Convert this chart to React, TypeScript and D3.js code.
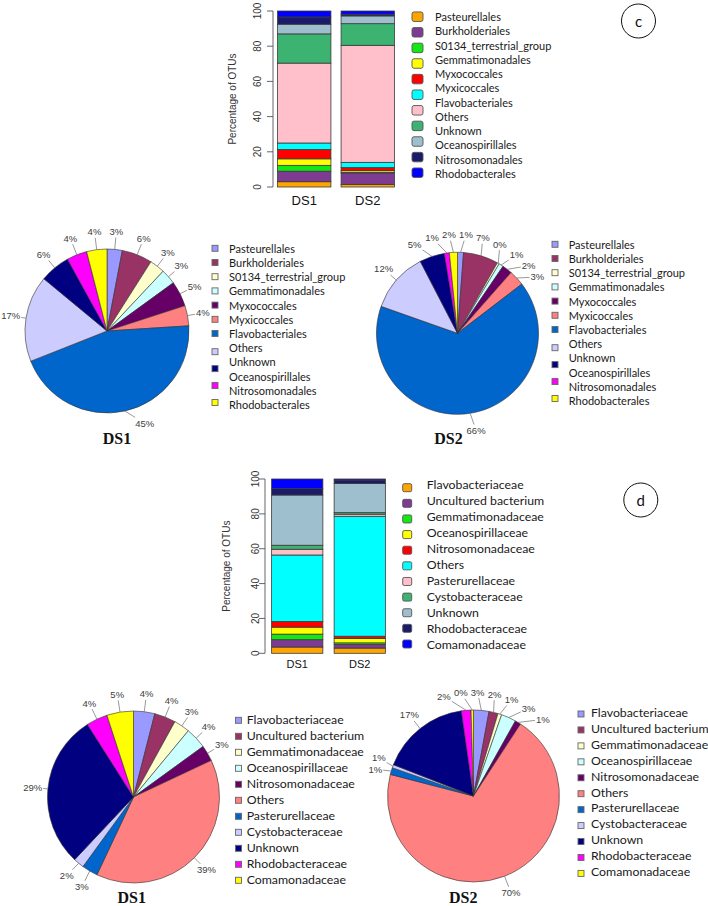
import React from 'react';
import * as d3 from 'd3';

// ---------------- data ----------------
const samples = ['DS1', 'DS2'];
const yTicks = [0, 20, 40, 60, 80, 100];

const barColors = ['#FFA500', '#7E3B92', '#14E814', '#FFFF00', '#FF0000', '#00FFFF', '#FFC0CB', '#3CB371', '#9EBFCD', '#1B1B6B', '#0000FF'];

// panel c (orders)
const orderLabels = ['Pasteurellales', 'Burkholderiales', 'S0134_terrestrial_group', 'Gemmatimonadales', 'Myxococcales', 'Myxicoccales', 'Flavobacteriales', 'Others', 'Unknown', 'Oceanospirillales', 'Nitrosomonadales', 'Rhodobacterales'];
const orderBarDS1 = [3, 6, 3.3, 3.7, 5.3, 3.7, 45.4, 16.6, 5.5, 4.1, 3.4];
const orderBarDS2 = [1.5, 6.5, 0.4, 0.9, 1.7, 3, 66.5, 12.3, 4.4, 1, 1.8];
const orderPieDS1 = [3, 6, 3, 3, 5, 4, 45, 17, 6, 4, 4];
const orderPieDS2 = [1.2, 7.0, 0.4, 0.9, 2.0, 3.1, 65.8, 12.0, 5.0, 1.0, 1.6];

// panel d (families)
const familyLabels = ['Flavobacteriaceae', 'Uncultured bacterium', 'Gemmatimonadaceae', 'Oceanospirillaceae', 'Nitrosomonadaceae', 'Others', 'Pasterurellaceae', 'Cystobacteraceae', 'Unknown', 'Rhodobacteraceae', 'Comamonadaceae'];
const familyBarDS1 = [3.6, 4.2, 3.2, 4, 3.2, 38.2, 3.3, 2.3, 28.8, 3.8, 5.4];
const familyBarDS2 = [3, 2, 1, 2.5, 1.3, 68.8, 1.2, 0.9, 16.8, 1.9, 0.6];
const familyPieDS1 = [4, 4, 3, 4, 3, 39, 3, 2, 29, 4, 5];
const familyPieDS2 = [2.9, 1.7, 0.7, 2.8, 1.1, 69.8, 1.3, 0.6, 16.8, 1.8, 0.45];

const pieColors = ['#9999FF', '#993366', '#FFFFCC', '#CCFFFF', '#660066', '#FF8080', '#0066CC', '#CCCCFF', '#000080', '#FF00FF', '#FFFF00'];

// ---------------- styles ----------------
const ARIAL = '"Liberation Sans", Arial, sans-serif';
const CALIBRI = 'Lato, "Open Sans", sans-serif';
const SERIF = '"Liberation Serif", "Times New Roman", serif';

// ---------------- components ----------------
type BarProps = {
  values: number[][];
  band: [number, number];
  pi: number;
  po: number;
  yRange: [number, number];
  axisX: number;
  tickLabelX: number;
  yLabelX: number;
  sampleY: number;
  sampleFont: number;
};

function BarPanel(p: BarProps) {
  const x = d3.scaleBand<string>().domain(samples).range(p.band).paddingInner(p.pi).paddingOuter(p.po);
  const y = d3.scaleLinear().domain([0, 100]).range(p.yRange);
  const keys = barColors.map((_, i) => 'k' + i);
  const rows = samples.map((s, si) => {
    const o: any = { sample: s };
    keys.forEach((k, i) => (o[k] = p.values[si][i]));
    return o;
  });
  const stacked = d3.stack<any>().keys(keys)(rows);
  const bw = x.bandwidth();
  return (
    <g>
      {stacked.map((layer, li) =>
        layer.map((d, si) => (
          <rect
            key={li + '-' + si}
            x={x(samples[si])}
            y={y(d[1])}
            width={bw}
            height={Math.max(0, y(d[0]) - y(d[1]))}
            fill={barColors[li]}
            stroke="#3a3a3a"
            strokeWidth={0.8}
          />
        ))
      )}
      <line x1={p.axisX} x2={p.axisX} y1={y(0)} y2={y(100)} stroke="#555" strokeWidth={0.9} />
      {yTicks.map((t) => (
        <g key={t}>
          <line x1={p.axisX - 6} x2={p.axisX} y1={y(t)} y2={y(t)} stroke="#555" strokeWidth={0.9} />
          <text
            transform={`translate(${p.tickLabelX},${y(t)}) rotate(-90)`}
            textAnchor="middle"
            dominantBaseline="central"
            fontSize={10}
            fontFamily={ARIAL}
            fill="#333"
          >
            {t}
          </text>
        </g>
      ))}
      <text
        transform={`translate(${p.yLabelX},${(y(0) + y(100)) / 2}) rotate(-90)`}
        textAnchor="middle"
        dominantBaseline="central"
        fontSize={10}
        fontFamily={ARIAL}
        fill="#333"
      >
        Percentage of OTUs
      </text>
      {samples.map((s) => (
        <text key={s} x={(x(s) as number) + bw / 2} y={p.sampleY} textAnchor="middle" fontSize={p.sampleFont} fontFamily={ARIAL} fill="#111">
          {s}
        </text>
      ))}
    </g>
  );
}

type LegendProps = {
  labels: string[];
  colors: string[];
  swX: number;
  swW: number;
  swH: number;
  labelX: number;
  y0: number;
  labelStep: number;
  swatchY: (i: number) => number;
  fontSize: number;
  rx: number;
  swStroke: string;
};

function Legend(p: LegendProps) {
  return (
    <g>
      {p.colors.map((c, i) => (
        <rect
          key={'s' + i}
          x={p.swX}
          y={p.swatchY(i) - p.swH / 2}
          width={p.swW}
          height={p.swH}
          rx={p.rx}
          fill={c}
          stroke={p.swStroke}
          strokeWidth={0.9}
        />
      ))}
      {p.labels.map((l, i) => (
        <text key={'t' + i} x={p.labelX} y={p.y0 + i * p.labelStep} dominantBaseline="central" fontSize={p.fontSize} fontFamily={CALIBRI} fill="#1a1a1a">
          {l}
        </text>
      ))}
    </g>
  );
}

type PieProps = {
  cx: number;
  cy: number;
  r: number;
  values: number[];
  title: string;
  titleX: number;
  titleY: number;
};

function PiePanel(p: PieProps) {
  const pie = d3.pie<number>().sort(null).value((d) => d);
  const arcs = pie(p.values);
  const arcGen = d3.arc<d3.PieArcDatum<number>>().innerRadius(0).outerRadius(p.r);
  const total = d3.sum(p.values);
  const fs = 9.5;
  const items = arcs.map((a, i) => {
    const mid = (a.startAngle + a.endAngle) / 2;
    const txt = Math.round((p.values[i] / total) * 100) + '%';
    const w = ((txt.length - 1) * 0.556 + 0.889) * fs;
    return { i, mid, t: mid > Math.PI ? mid - 2 * Math.PI : mid, txt, w };
  });
  const rad = (t: number) => p.r + 15 + 3 * Math.abs(Math.cos(t));
  const pos = (t: number) => ({ x: p.cx + rad(t) * Math.sin(t), y: p.cy - rad(t) * Math.cos(t) });
  // title box acts as an obstacle for the labels
  const tb = { x0: p.titleX - 18, x1: p.titleX + 18, y0: p.titleY - 15, y1: p.titleY + 2 };
  const sorted = [...items].sort((a, b) => a.t - b.t);
  for (let iter = 0; iter < 600; iter++) {
    let moved = false;
    for (let k = 0; k < sorted.length - 1; k++) {
      const a = sorted[k];
      const b = sorted[k + 1];
      const pa = pos(a.t);
      const pb = pos(b.t);
      const ox = (a.w + b.w) / 2 + 3 - Math.abs(pa.x - pb.x);
      const oy = 11 - Math.abs(pa.y - pb.y);
      if (ox > 0 && oy > 0) {
        a.t -= 0.004;
        b.t += 0.004;
        moved = true;
      }
    }
    for (const it of sorted) {
      const c = pos(it.t);
      const hit = c.x + it.w / 2 > tb.x0 && c.x - it.w / 2 < tb.x1 && c.y + 5.5 > tb.y0 && c.y - 5.5 < tb.y1;
      if (hit) {
        it.t += c.x >= p.titleX ? -0.004 : 0.004;
        moved = true;
      }
    }
    if (!moved) break;
  }
  return (
    <g>
      {arcs.map((a, i) => (
        <path key={i} d={arcGen(a) as string} transform={`translate(${p.cx},${p.cy})`} fill={pieColors[i]} stroke="#333" strokeWidth={0.6} />
      ))}
      {items.map((it) => {
        const c = pos(it.t);
        const ex = p.cx + p.r * Math.sin(it.mid);
        const ey = p.cy - p.r * Math.cos(it.mid);
        const dx = ex - c.x;
        const dy = ey - c.y;
        const len = Math.hypot(dx, dy) || 1;
        const ux = dx / len;
        const uy = dy / len;
        const tt = Math.min((it.w / 2 + 1) / Math.max(Math.abs(ux), 1e-6), 6 / Math.max(Math.abs(uy), 1e-6));
        const lx = c.x + ux * tt;
        const ly = c.y + uy * tt;
        const showLine = Math.hypot(ex - lx, ey - ly) > 2;
        return (
          <g key={'l' + it.i}>
            {showLine && <line x1={ex} y1={ey} x2={lx} y2={ly} stroke="#777" strokeWidth={0.75} />}
            <text x={c.x} y={c.y} textAnchor="middle" dominantBaseline="central" fontSize={fs} fontFamily={ARIAL} fill="#404040">
              {it.txt}
            </text>
          </g>
        );
      })}
      <text x={p.titleX} y={p.titleY} textAnchor="middle" fontSize={16} fontWeight="bold" fontFamily={SERIF} fill="#111">
        {p.title}
      </text>
    </g>
  );
}

function CircleTag({ cx, cy, label }: { cx: number; cy: number; label: string }) {
  return (
    <g>
      <circle cx={cx} cy={cy} r={17} fill="none" stroke="#111" strokeWidth={1} />
      <text x={cx} y={cy} textAnchor="middle" dominantBaseline="central" fontSize={15} fontFamily={CALIBRI} fill="#111">
        {label}
      </text>
    </g>
  );
}

// pie legend swatch positions for panel c (11 swatches against 12 labels)
const pieCSwatch = (y0: number, step: number) => (i: number) => {
  if (i < 7) return y0 + i * step;
  const a = y0 + 7 * step + 4;
  const b = y0 + 11 * step - 2;
  return a + ((i - 7) * (b - a)) / 3;
};

export default function App() {
  return (
    <svg width={708} height={906} style={{ position: 'absolute', left: 0, top: 0, background: '#fff' }}>
      <rect x={0} y={0} width={708} height={906} fill="#fff" />
      {/* ---------- panel c ---------- */}
      <BarPanel
        values={[orderBarDS1, orderBarDS2]}
        band={[272.5, 399.5]}
        pi={0.16}
        po={0.08}
        yRange={[187, 11]}
        axisX={273}
        tickLabelX={257}
        yLabelX={232}
        sampleY={205}
        sampleFont={13}
      />
      <Legend
        labels={orderLabels}
        colors={barColors}
        swX={412}
        swW={11}
        swH={9.5}
        rx={2}
        swStroke="#555"
        labelX={435}
        y0={16.7}
        labelStep={14.24}
        swatchY={(i) => 16.7 + i * 15.6}
        fontSize={11}
      />
      <CircleTag cx={638.5} cy={21} label="c" />

      <PiePanel cx={107} cy={331} r={82} values={orderPieDS1} title="DS1" titleX={117} titleY={444} />
      <Legend
        labels={orderLabels}
        colors={pieColors}
        swX={212}
        swW={6}
        swH={6}
        rx={0}
        swStroke="#666"
        labelX={229}
        y0={248.3}
        labelStep={14.2}
        swatchY={pieCSwatch(248.3, 14.2)}
        fontSize={11}
      />
      <PiePanel cx={457.5} cy={333.3} r={81} values={orderPieDS2} title="DS2" titleX={448.5} titleY={444} />
      <Legend
        labels={orderLabels}
        colors={pieColors}
        swX={552}
        swW={6}
        swH={6}
        rx={0}
        swStroke="#666"
        labelX={568.7}
        y0={244.3}
        labelStep={14.2}
        swatchY={pieCSwatch(244.3, 14.2)}
        fontSize={11}
      />

      {/* ---------- panel d ---------- */}
      <BarPanel
        values={[familyBarDS1, familyBarDS2]}
        band={[266, 391]}
        pi={0.18}
        po={0.09}
        yRange={[653.3, 479]}
        axisX={265}
        tickLabelX={255}
        yLabelX={226}
        sampleY={668}
        sampleFont={11}
      />
      <Legend
        labels={familyLabels}
        colors={barColors}
        swX={402.7}
        swW={9}
        swH={8}
        rx={1.5}
        swStroke="#555"
        labelX={426.7}
        y0={484.3}
        labelStep={15.97}
        swatchY={(i) => 487.7 + i * 15.63}
        fontSize={12.3}
      />
      <CircleTag cx={640.8} cy={500} label="d" />

      <PiePanel cx={133.5} cy={797} r={86} values={familyPieDS1} title="DS1" titleX={131.7} titleY={903} />
      <Legend
        labels={familyLabels}
        colors={pieColors}
        swX={235.5}
        swW={6}
        swH={6}
        rx={0}
        swStroke="#666"
        labelX={246.7}
        y0={719.3}
        labelStep={16}
        swatchY={(i) => 720.3 + i * 16}
        fontSize={12.3}
      />
      <PiePanel cx={473.5} cy={796} r={86} values={familyPieDS2} title="DS2" titleX={463.3} titleY={903} />
      <Legend
        labels={familyLabels}
        colors={pieColors}
        swX={578}
        swW={6}
        swH={6}
        rx={0}
        swStroke="#666"
        labelX={591}
        y0={712.3}
        labelStep={15.94}
        swatchY={(i) => 714 + i * 15.94}
        fontSize={12.3}
      />
    </svg>
  );
}
